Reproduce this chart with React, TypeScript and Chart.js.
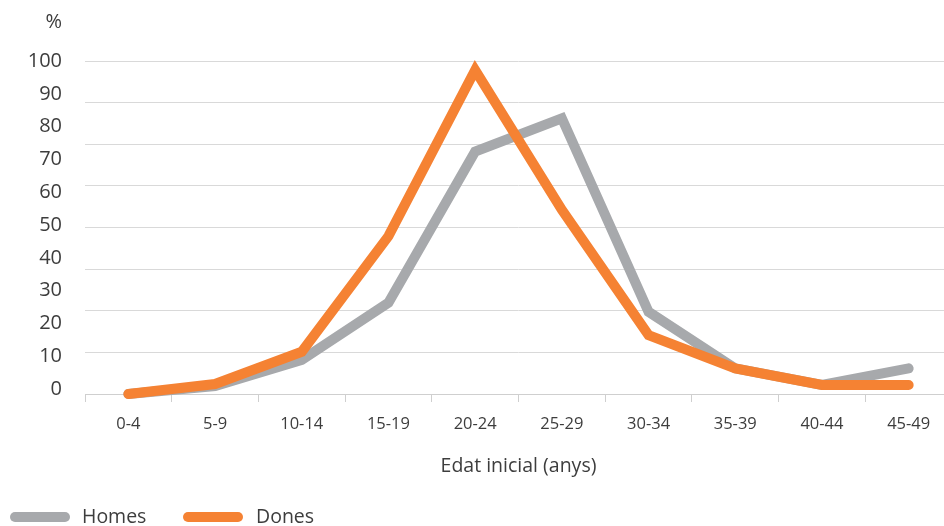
import { useEffect, useRef } from "react";
import { Chart, registerables } from "chart.js";

Chart.register(...registerables);

const categories = ["0-4", "5-9", "10-14", "15-19", "20-24", "25-29", "30-34", "35-39", "40-44", "45-49"];
const homes = [0, 2.4, 10.2, 27.4, 72.8, 82.8, 24.7, 7.7, 2.7, 7.7];
const dones = [0, 3.0, 12.7, 47.4, 97.3, 55.3, 17.7, 7.7, 2.7, 2.7];
const yTickLabels = [0, 10, 20, 30, 40, 50, 60, 70, 80, 90, 100];
const gridValues = [0, 12.5, 25, 37.5, 50, 62.5, 75, 87.5, 100];
const seriesNames = ["Homes", "Dones"];
const seriesColors = ["#a7a9ac", "#f58233"];
const xTitle = "Edat inicial (anys)";
const yUnit = "%";

const FONT = "'Open Sans', 'DejaVu Sans', sans-serif";
const TEXT = "#3d3d3d";

const extrasPlugin = {
  id: "extras",
  afterDraw(chart: any) {
    const ctx = chart.ctx;
    ctx.save();
    ctx.fillStyle = TEXT;
    ctx.font = `20px ${FONT}`;
    ctx.textAlign = "right";
    ctx.textBaseline = "middle";
    ctx.fillText(yUnit, 62, 22);

    const items = [
      { x0: 15, x1: 65, tx: 82 },
      { x0: 188, x1: 238, tx: 256 },
    ];
    const y = 517;
    items.forEach((it, i) => {
      ctx.beginPath();
      ctx.strokeStyle = seriesColors[i];
      ctx.lineWidth = 10;
      ctx.lineCap = "round";
      ctx.moveTo(it.x0, y);
      ctx.lineTo(it.x1, y);
      ctx.stroke();
      ctx.fillStyle = TEXT;
      ctx.font = `19.5px ${FONT}`;
      ctx.textAlign = "left";
      ctx.textBaseline = "middle";
      ctx.fillText(seriesNames[i], it.tx, y);
    });
    ctx.restore();
  },
};

export default function App() {
  const ref = useRef<HTMLCanvasElement | null>(null);

  useEffect(() => {
    if (!ref.current) return;
    const chart = new Chart(ref.current, {
      type: "line",
      data: {
        labels: categories,
        datasets: [
          {
            label: seriesNames[0],
            data: homes,
            borderColor: seriesColors[0],
            backgroundColor: seriesColors[0],
            borderWidth: 10,
            borderCapStyle: "round",
            borderJoinStyle: "miter",
            pointRadius: 0,
            tension: 0,
            order: 1,
            clip: false,
            yAxisID: "y",
          },
          {
            label: seriesNames[1],
            data: dones,
            borderColor: seriesColors[1],
            backgroundColor: seriesColors[1],
            borderWidth: 10,
            borderCapStyle: "round",
            borderJoinStyle: "miter",
            pointRadius: 0,
            tension: 0,
            order: 0,
            clip: false,
            yAxisID: "y",
          },
        ],
      },
      options: {
        animation: false,
        responsive: false,
        maintainAspectRatio: false,
        layout: { padding: { left: 0, right: 8, top: 61, bottom: 48 } },
        plugins: { legend: { display: false }, tooltip: { enabled: false } },
        scales: {
          x: {
            type: "category",
            offset: true,
            grid: {
              offset: true,
              drawOnChartArea: false,
              drawTicks: true,
              tickLength: 8,
              color: "#cfcfcf",
              lineWidth: 1,
            },
            border: { display: true, color: "#cfcfcf", width: 1 },
            ticks: {
              padding: 12,
              font: { family: FONT, size: 16.5 },
              color: TEXT,
              maxRotation: 0,
              autoSkip: false,
            },
            title: {
              display: true,
              text: xTitle,
              font: { family: FONT, size: 19.5 },
              color: TEXT,
              padding: { top: 0, bottom: 0 },
            },
            afterFit: (s: any) => {
              s.height = 84;
            },
          },
          y: {
            position: "left",
            min: 0,
            max: 100,
            afterBuildTicks: (s: any) => {
              s.ticks = gridValues.map((v) => ({ value: v }));
            },
            ticks: { display: false },
            grid: { color: "#d9d9d9", drawTicks: false, lineWidth: 1 },
            border: { display: false },
            afterFit: (s: any) => {
              s.width = 0;
            },
          },
          yl: {
            position: "left",
            min: -1.5,
            max: 100,
            afterBuildTicks: (s: any) => {
              s.ticks = yTickLabels.map((v) => ({ value: v }));
            },
            ticks: {
              padding: 23,
              font: { family: FONT, size: 20 },
              color: TEXT,
            },
            grid: { display: false, drawTicks: false },
            border: { display: false },
            afterFit: (s: any) => {
              s.width = 85;
            },
          },
        },
      },
      plugins: [extrasPlugin],
    } as any);
    return () => chart.destroy();
  }, []);

  return (
    <div
      style={{
        position: "absolute",
        left: 0,
        top: 0,
        width: 944,
        height: 526,
        overflow: "hidden",
        background: "#ffffff",
      }}
    >
      <canvas ref={ref} width={960} height={526} style={{ width: 960, height: 526, display: "block" }} />
    </div>
  );
}
